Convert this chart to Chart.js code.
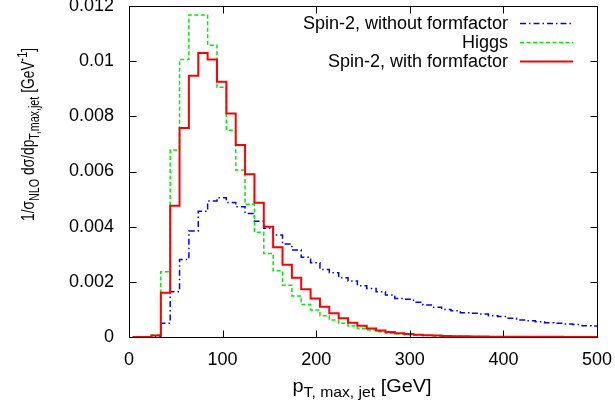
<!DOCTYPE html>
<html>
<head>
<meta charset="utf-8">
<script src="https://cdn.jsdelivr.net/npm/chart.js@4/dist/chart.umd.min.js"></script>
<style>
  html, body { margin: 0; padding: 0; background: #fff; }
</style>
</head>
<body>
<canvas id="ptChart" width="615" height="405"></canvas>
<script>
// bin edges in GeV (left edge of each 10 GeV bin, plus the last right edge)
const binEdges = [4, 14, 24, 34, 44, 54, 64, 74, 84, 94, 104, 114, 124, 134, 144, 154, 164, 174, 184, 194,
  204, 214, 224, 234, 244, 254, 264, 274, 284, 294, 304, 314, 324, 334, 344, 354, 364, 374, 384, 394,
  404, 414, 424, 434, 444, 454, 464, 474, 484, 494, 504];

const spin2NoFF = [0, 0, 0.00002, 0.0005, 0.00164, 0.00281, 0.00384, 0.00456, 0.00493, 0.00505,
  0.00488, 0.00472, 0.00448, 0.0042, 0.00394, 0.0037, 0.00337, 0.00315, 0.00289, 0.00269,
  0.00245, 0.00233, 0.00215, 0.00203, 0.00186, 0.00176, 0.00164, 0.00152, 0.0014, 0.00137,
  0.00126, 0.00116, 0.00108, 0.001, 0.00095, 0.00088, 0.00086, 0.00083, 0.00077, 0.00074,
  0.00068, 0.00062, 0.00059, 0.00055, 0.00052, 0.0005, 0.00047, 0.00045, 0.00041, 0.0004];

const higgs = [0, 0, 0.00007, 0.00237, 0.00678, 0.01006, 0.01167, 0.01167, 0.01058, 0.00905,
  0.0075, 0.00605, 0.00481, 0.0038, 0.00303, 0.0024, 0.00188, 0.00149, 0.00118, 0.00098,
  0.00077, 0.00062, 0.0005, 0.0004, 0.00031, 0.00025, 0.00019, 0.00014, 0.00011, 0.00008,
  0.00006, 0.00005, 0.00004, 0.00003, 0.000025, 0.00002, 0.000015, 0.000012, 0.00001, 0.000008,
  0.000007, 0.000006, 0.000005, 0.000005, 0.000004, 0.000004, 0.000003, 0.000003, 0.000003, 0.000002];

const spin2FF = [0, 0, 0.00005, 0.0016, 0.00476, 0.00758, 0.00947, 0.0103, 0.01006, 0.00925,
  0.0081, 0.00696, 0.0059, 0.00487, 0.004, 0.00325, 0.00262, 0.00215, 0.00173, 0.0014,
  0.0011, 0.00086, 0.00068, 0.00052, 0.00041, 0.00031, 0.00024, 0.00018, 0.00014, 0.00011,
  0.00008, 0.00006, 0.00005, 0.00004, 0.00003, 0.000025, 0.00002, 0.000016, 0.000013, 0.00001,
  0.000009, 0.000008, 0.000007, 0.000006, 0.000005, 0.000005, 0.000004, 0.000004, 0.000003, 0.000003];

const seriesNames = ['Spin-2, without formfactor', 'Higgs', 'Spin-2, with formfactor'];
const xTickValues = [0, 100, 200, 300, 400, 500];
const yTickLabels = ['0', '0.002', '0.004', '0.006', '0.008', '0.01', '0.012'];
const yStep = 0.002;

const FONT = '"Liberation Sans", Arial, Helvetica, sans-serif';

function toSteps(values) {
  const pts = values.map((v, i) => ({ x: binEdges[i], y: v }));
  pts.push({ x: binEdges[values.length], y: values[values.length - 1] });
  return pts;
}

const styles = [
  { color: '#0000ff', width: 1.5, dash: [6, 3, 1.5, 3] },
  { color: '#00ee00', width: 1.5, dash: [4, 2.5] },
  { color: '#ff0000', width: 2, dash: [] }
];

// draws text made of pieces with sub/superscripts, along the current x axis
function drawRich(ctx, parts, x, y, fitLength) {
  let total = 0;
  parts.forEach(p => {
    ctx.font = p.size + 'px ' + FONT;
    p.w = ctx.measureText(p.t).width;
    total += p.w;
  });
  const k = fitLength ? fitLength / total : 1;
  ctx.save();
  ctx.translate(x, y);
  ctx.scale(k, 1);
  let cx = 0;
  ctx.textAlign = 'left';
  ctx.textBaseline = 'alphabetic';
  ctx.fillStyle = '#000';
  parts.forEach(p => {
    ctx.font = p.size + 'px ' + FONT;
    ctx.fillText(p.t, cx, p.dy || 0);
    cx += p.w;
  });
  ctx.restore();
}

const gnuplotDecor = {
  id: 'gnuplotDecor',
  afterDraw(chart) {
    const ctx = chart.ctx;
    const a = chart.chartArea;
    const xs = chart.scales.x;
    const ys = chart.scales.y;
    const L = Math.round(a.left) + 0.5, R = Math.round(a.right) + 0.5;
    const T = Math.round(a.top) + 0.5, B = Math.round(a.bottom) + 0.5;

    ctx.save();
    ctx.strokeStyle = '#000';
    ctx.lineWidth = 1;
    ctx.setLineDash([]);
    ctx.strokeRect(L, T, R - L, B - T);

    // inward ticks on all four sides
    ctx.beginPath();
    xTickValues.forEach(v => {
      const px = Math.round(xs.getPixelForValue(v)) + 0.5;
      ctx.moveTo(px, B); ctx.lineTo(px, B - 7);
      ctx.moveTo(px, T); ctx.lineTo(px, T + 7);
    });
    yTickLabels.forEach((_, i) => {
      const py = Math.round(ys.getPixelForValue(i * yStep)) + 0.5;
      ctx.moveTo(L, py); ctx.lineTo(L + 7, py);
      ctx.moveTo(R, py); ctx.lineTo(R - 7, py);
    });
    ctx.stroke();

    // legend, gnuplot style: text right aligned, sample on the right
    const rows = [23.5, 42.5, 61.5];
    seriesNames.forEach((name, i) => {
      ctx.font = '18px ' + FONT;
      ctx.fillStyle = '#000';
      ctx.textAlign = 'right';
      ctx.textBaseline = 'middle';
      ctx.fillText(name, 508, rows[i] + 1);
      ctx.beginPath();
      ctx.strokeStyle = styles[i].color;
      ctx.lineWidth = styles[i].width;
      ctx.setLineDash(styles[i].dash);
      ctx.moveTo(520, rows[i]);
      ctx.lineTo(573, rows[i]);
      ctx.stroke();
    });
    ctx.restore();

    // x axis title
    drawRich(ctx, [
      { t: 'p', size: 19 },
      { t: 'T, max, jet', size: 15, dy: 5 },
      { t: ' [GeV]', size: 19 }
    ], 292.5, 392, 139);

    // y axis title, rotated
    ctx.save();
    ctx.translate(34, 221);
    ctx.rotate(-Math.PI / 2);
    drawRich(ctx, [
      { t: '1/σ', size: 18 },
      { t: 'NLO', size: 14, dy: 5 },
      { t: ' dσ/dp', size: 18 },
      { t: 'T,max,jet', size: 14, dy: 5 },
      { t: ' [GeV', size: 18 },
      { t: '-1', size: 14, dy: -7 },
      { t: ']', size: 18 }
    ], 0, 0, 173);
    ctx.restore();
  }
};

new Chart(document.getElementById('ptChart'), {
  type: 'line',
  data: {
    datasets: [
      // red last in gnuplot, so put it first here to be drawn on top
      { label: seriesNames[2], data: toSteps(spin2FF), borderColor: styles[2].color, borderWidth: styles[2].width, borderDash: styles[2].dash },
      { label: seriesNames[1], data: toSteps(higgs), borderColor: styles[1].color, borderWidth: styles[1].width, borderDash: styles[1].dash },
      { label: seriesNames[0], data: toSteps(spin2NoFF), borderColor: styles[0].color, borderWidth: styles[0].width, borderDash: styles[0].dash }
    ].map(d => Object.assign(d, { stepped: 'before', pointRadius: 0, fill: false, tension: 0 }))
  },
  options: {
    responsive: false,
    animation: false,
    layout: { padding: { left: 0, right: 18, top: 6, bottom: 0 } },
    plugins: {
      legend: { display: false },
      tooltip: { enabled: false }
    },
    scales: {
      x: {
        type: 'linear',
        min: 0,
        max: 500,
        grid: { display: false, drawTicks: false },
        border: { display: false },
        ticks: {
          stepSize: 100,
          color: '#000',
          padding: 12,
          maxRotation: 0,
          font: { family: FONT, size: 18 }
        },
        afterFit(s) {
          s.height = 68;
          s.paddingLeft = 0;
          s.paddingRight = 0;
        }
      },
      y: {
        min: 0,
        max: 0.012,
        grid: { display: false, drawTicks: false },
        border: { display: false },
        ticks: {
          stepSize: yStep,
          color: '#000',
          padding: 15,
          font: { family: FONT, size: 18 },
          callback: (v) => yTickLabels[Math.round(v / yStep)]
        },
        afterFit(s) {
          s.width = 129;
          s.paddingTop = 0;
          s.paddingBottom = 0;
        }
      }
    }
  },
  plugins: [gnuplotDecor]
});
</script>
</body>
</html>
